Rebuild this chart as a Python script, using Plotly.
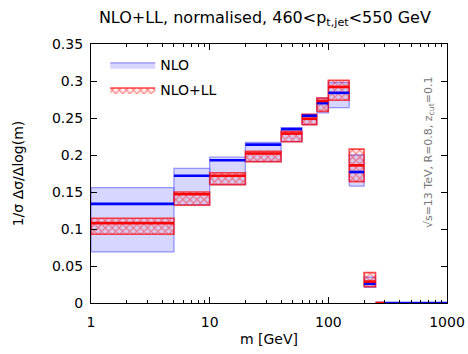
import plotly.graph_objects as go

# ---- data ----
edges = [1, 5, 10, 20, 40, 60, 80, 100, 150, 200, 250, 1000]
nlo_c  = [0.134, 0.172, 0.193, 0.214, 0.235, 0.253, 0.270, 0.284, 0.177, 0.026, 0.0]
nlo_lo = [0.069, 0.133, 0.160, 0.191, 0.218, 0.241, 0.257, 0.264, 0.158, 0.021, 0.0]
nlo_hi = [0.156, 0.182, 0.197, 0.217, 0.237, 0.255, 0.277, 0.298, 0.200, 0.035, 0.0]

ll_edges = [1, 5, 10, 20, 40, 60, 80, 100, 150, 200, 250, 300]
ll_c  = [0.108, 0.147, 0.172, 0.202, 0.229, 0.249, 0.273, 0.292, 0.186, 0.029, 0.0]
ll_lo = [0.093, 0.132, 0.160, 0.191, 0.218, 0.241, 0.259, 0.274, 0.164, 0.022, 0.0]
ll_hi = [0.1145, 0.150, 0.176, 0.205, 0.232, 0.255, 0.277, 0.301, 0.208, 0.041, 0.0]

y_ticks = [0, 0.05, 0.1, 0.15, 0.2, 0.25, 0.3, 0.35]
y_ticklabels = ["0", "0.05", "0.1", "0.15", "0.2", "0.25", "0.3", "0.35"]


def boxes(ed, lo, hi):
    xs, ys = [], []
    for i in range(len(lo)):
        if hi[i] <= lo[i]:
            continue
        a, b = ed[i], ed[i + 1]
        xs += [a, b, b, a, a, None]
        ys += [lo[i], lo[i], hi[i], hi[i], lo[i], None]
    return xs, ys


def steps(ed, c):
    xs, ys = [], []
    for i in range(len(c)):
        xs += [ed[i], ed[i + 1], None]
        ys += [c[i], c[i], None]
    return xs, ys


fig = go.Figure()

bx, by = boxes(edges, nlo_lo, nlo_hi)
fig.add_trace(go.Scatter(x=bx, y=by, mode="lines", fill="toself",
                         fillcolor="rgba(200,200,255,0.75)",
                         line=dict(color="rgba(100,100,255,0.65)", width=1.3),
                         name="NLO", legendgroup="nlo", hoverinfo="skip"))

rx, ry = boxes(ll_edges, ll_lo, ll_hi)
fig.add_trace(go.Scatter(x=rx, y=ry, mode="lines", fill="toself",
                         fillcolor="rgba(255,0,0,0.08)",
                         fillpattern=dict(shape="x", fgcolor="rgba(255,0,0,0.9)",
                                          bgcolor="rgba(255,0,0,0.06)",
                                          size=5, solidity=0.4),
                         line=dict(color="rgba(255,0,0,0.7)", width=1.6),
                         name="NLO+LL", legendgroup="ll", hoverinfo="skip"))

lx, ly = steps(edges, nlo_c)
fig.add_trace(go.Scatter(x=lx, y=ly, mode="lines",
                         line=dict(color="rgb(0,0,255)", width=2.6),
                         showlegend=False, legendgroup="nlo", hoverinfo="skip"))

lx2, ly2 = steps(ll_edges, ll_c)
fig.add_trace(go.Scatter(x=lx2, y=ly2, mode="lines",
                         line=dict(color="rgb(255,0,0)", width=2.6),
                         showlegend=False, legendgroup="ll", hoverinfo="skip"))

fig.add_annotation(text="√s=13 TeV, R=0.8, z<sub>cut</sub>=0.1",
                   xref="paper", yref="paper", x=0.975, y=0.583,
                   textangle=-90, showarrow=False,
                   font=dict(size=11, color="#777777"))

fig.update_layout(
    width=468, height=354,
    margin=dict(l=91, r=21, t=44, b=51, autoexpand=False),
    paper_bgcolor="white", plot_bgcolor="white",
    font=dict(family="DejaVu Sans", size=14, color="black"),
    title=dict(text="NLO+LL, normalised, 460<p<sub>t,jet</sub><550 GeV",
               x=0.566, xref="container", xanchor="center",
               y=1 - 17 / 354, yanchor="middle", font=dict(size=16)),
    legend=dict(x=0.04, y=0.98, xanchor="left", yanchor="top",
                bgcolor="rgba(0,0,0,0)", font=dict(size=14),
                itemwidth=45, tracegroupgap=4),
    xaxis=dict(type="log", range=[0, 3], dtick=1,
               showline=True, linecolor="black", linewidth=1.3, mirror="allticks",
               ticks="inside", ticklen=6, tickcolor="black",
               showgrid=False, zeroline=False, automargin=False,
               ticklabelstandoff=6,
               minor=dict(ticks="inside", ticklen=3, tickcolor="black", showgrid=False),
               title=dict(text="m [GeV]", font=dict(size=14), standoff=5),
               tickfont=dict(size=14)),
    yaxis=dict(range=[0, 0.35], tickvals=y_ticks, ticktext=y_ticklabels,
               showline=True, linecolor="black", linewidth=1.3, mirror="allticks",
               ticks="inside", ticklen=6, tickcolor="black",
               showgrid=False, zeroline=False, automargin=False,
               ticklabelstandoff=4,
               title=dict(text="1/σ Δσ/Δlog(m)", font=dict(size=14), standoff=24),
               tickfont=dict(size=14)),
)

fig.write_html("out.html")
